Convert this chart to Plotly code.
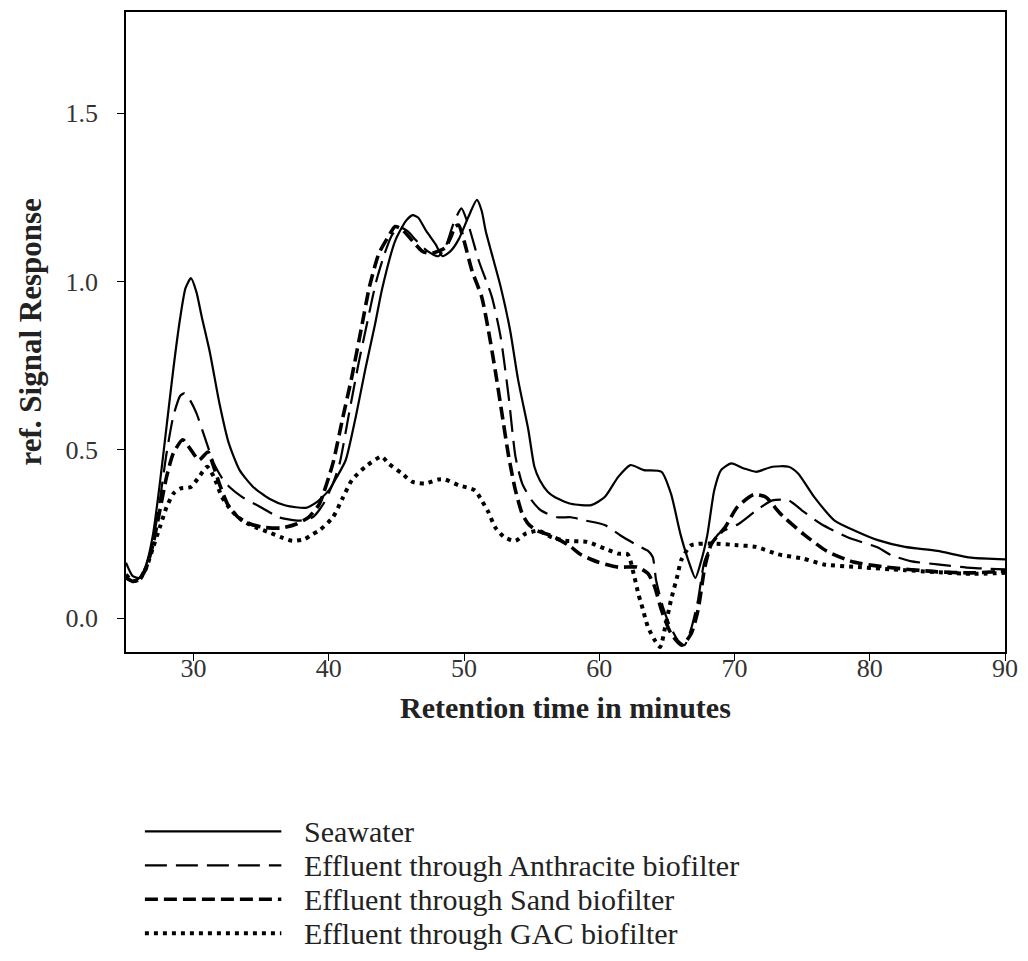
import plotly.graph_objects as go

# Retention time (min) and reference signal response for each sample
sea_t = [25.0, 25.5, 26.0, 26.5, 27.0, 27.5, 28.0, 28.5, 29.0, 29.4, 29.8, 30.2, 30.6, 31.2, 31.9,
         32.6, 33.4, 34.4, 35.6, 36.8, 38.3, 39.1, 40.0, 40.6, 41.25, 42.0, 42.7, 43.4, 43.95, 44.9,
         45.7, 46.2, 46.6, 47.2, 47.9, 48.4, 49.0, 49.6, 50.3, 50.95, 51.3, 51.6, 52.2, 52.7, 53.4,
         54.0, 54.75, 55.2, 55.6, 56.2, 56.7, 57.9, 59.4, 60.4, 61.4, 62.3, 63.3, 64.6, 65.3, 66.0,
         66.6, 67.1, 67.6, 68.0, 68.5, 69.0, 69.75, 70.7, 71.6, 72.8, 74.0, 74.7, 75.9, 77.4, 78.9,
         80.6, 82.6, 85.0, 87.5, 90.0]
sea_v = [0.165, 0.125, 0.12, 0.16, 0.25, 0.40, 0.57, 0.74, 0.89, 0.98, 1.01, 0.97, 0.895, 0.79, 0.64,
         0.52, 0.44, 0.39, 0.355, 0.335, 0.328, 0.345, 0.38, 0.42, 0.47, 0.60, 0.74, 0.87, 0.98, 1.12,
         1.18, 1.197, 1.19, 1.15, 1.11, 1.075, 1.09, 1.125, 1.19, 1.242, 1.21, 1.15, 1.06, 0.985, 0.856,
         0.707, 0.56, 0.45, 0.41, 0.375, 0.36, 0.34, 0.336, 0.36, 0.42, 0.455, 0.44, 0.435, 0.37, 0.25,
         0.17, 0.12, 0.18, 0.25, 0.38, 0.44, 0.46, 0.445, 0.435, 0.45, 0.45, 0.43, 0.36, 0.29, 0.26,
         0.232, 0.212, 0.20, 0.18, 0.175]

anth_t = [25.0, 25.5, 26.0, 26.5, 27.0, 27.5, 28.0, 28.5, 29.0, 29.3, 29.7, 30.2, 30.8, 31.5, 32.2,
          32.65, 33.6, 35.1, 36.3, 37.8, 38.8, 39.6, 40.3, 40.8, 41.5, 42.2, 42.9, 43.5, 44.1, 44.7,
          45.3, 45.8, 46.5, 47.3, 48.1, 48.6, 49.2, 49.8, 50.3, 51.1, 52.05, 52.7, 53.3, 53.8, 54.3,
          55.0, 55.7, 56.9, 57.9, 59.0, 60.4, 61.6, 62.8, 63.6, 63.95, 64.2, 64.7, 65.2, 65.8, 66.3,
          66.8, 67.3, 67.8, 68.8, 70.3, 71.6, 72.8, 74.0, 75.0, 76.4, 78.4, 80.6, 81.6, 83.0, 85.0,
          87.5, 90.0]
anth_v = [0.12, 0.11, 0.12, 0.16, 0.23, 0.35, 0.49, 0.60, 0.66, 0.668, 0.65, 0.61, 0.54, 0.46, 0.41,
          0.39, 0.36, 0.327, 0.30, 0.29, 0.30, 0.34, 0.40, 0.46, 0.61, 0.757, 0.89, 1.0, 1.08, 1.14,
          1.16, 1.15, 1.12, 1.09, 1.075, 1.10, 1.17, 1.217, 1.17, 1.06, 0.955, 0.836, 0.657, 0.48, 0.40,
          0.35, 0.32, 0.30, 0.30, 0.29, 0.277, 0.245, 0.217, 0.20, 0.182, 0.113, 0.034, -0.02, -0.065, -0.08,
          -0.03, 0.054, 0.172, 0.25, 0.28, 0.32, 0.35, 0.35, 0.32, 0.28, 0.24, 0.21, 0.187, 0.17, 0.16,
          0.15, 0.145]

sand_t = [25.0, 25.5, 26.0, 26.5, 27.0, 27.5, 28.0, 28.5, 29.2, 29.8, 30.4, 31.06, 31.4, 31.9, 32.5,
          33.3, 34.2, 35.2, 36.5, 37.6, 38.5, 39.3, 40.3, 41.0, 41.7, 42.4, 43.0, 43.7, 44.4, 44.9,
          45.4, 46.2, 46.9, 47.5, 48.1, 48.6, 49.0, 49.35, 49.6, 50.0, 50.6, 51.3, 51.8, 52.3, 52.8,
          53.3, 53.8, 54.3, 54.75, 55.4, 56.5, 57.8, 58.6, 59.9, 61.4, 62.8, 63.6, 64.1, 64.6, 65.3,
          66.1, 66.8, 67.3, 67.8, 68.3, 69.3, 70.2, 71.4, 72.3, 73.4, 75.1, 76.8, 78.8, 81.2, 85.0,
          87.5, 90.0]
sand_v = [0.12, 0.11, 0.115, 0.15, 0.22, 0.32, 0.42, 0.49, 0.53, 0.50, 0.47, 0.494, 0.46, 0.40, 0.34,
          0.30, 0.28, 0.27, 0.268, 0.28, 0.30, 0.34, 0.46, 0.59, 0.717, 0.86, 0.984, 1.083, 1.133, 1.163,
          1.155, 1.12, 1.09, 1.083, 1.09, 1.10, 1.13, 1.163, 1.167, 1.12, 1.03, 0.955, 0.855, 0.737, 0.608,
          0.48, 0.38, 0.31, 0.28, 0.26, 0.245, 0.215, 0.19, 0.167, 0.152, 0.152, 0.133, 0.093, 0.024, -0.045,
          -0.08, -0.045, 0.024, 0.152, 0.222, 0.27, 0.33, 0.367, 0.36, 0.31, 0.25, 0.20, 0.167, 0.152, 0.138,
          0.135, 0.14]

gac_t = [25.0, 25.5, 26.0, 26.5, 27.0, 27.5, 28.0, 28.5, 29.0, 29.8, 30.4, 31.0, 31.5, 32.1, 32.8,
         33.6, 34.6, 35.6, 36.5, 37.3, 38.2, 38.8, 39.3, 40.3, 41.0, 41.7, 42.7, 43.9, 44.4, 45.4,
         46.2, 47.1, 48.1, 48.6, 49.6, 50.8, 51.3, 51.8, 52.3, 53.0, 53.8, 54.5, 55.5, 56.5, 57.5,
         59.1, 60.4, 61.4, 62.1, 62.6, 62.9, 63.1, 63.6, 64.1, 64.5, 64.9, 65.3, 65.8, 66.05, 66.8,
         68.3, 70.2, 71.6, 73.2, 75.1, 76.6, 78.8, 82.6, 87.5, 90.0]
gac_v = [0.13, 0.11, 0.115, 0.15, 0.21, 0.27, 0.33, 0.37, 0.385, 0.39, 0.42, 0.45, 0.42, 0.36, 0.32,
         0.29, 0.27, 0.255, 0.24, 0.23, 0.235, 0.25, 0.261, 0.30, 0.355, 0.41, 0.45, 0.48, 0.46, 0.43,
         0.405, 0.40, 0.412, 0.412, 0.395, 0.38, 0.35, 0.315, 0.27, 0.24, 0.23, 0.25, 0.26, 0.24, 0.23,
         0.227, 0.207, 0.192, 0.19, 0.122, 0.07, 0.044, -0.026, -0.065, -0.085, -0.02, 0.054, 0.13, 0.172, 0.217,
         0.222, 0.217, 0.212, 0.19, 0.177, 0.16, 0.153, 0.143, 0.132, 0.135]

series_names = ["Seawater",
                "Effluent through Anthracite biofilter",
                "Effluent through Sand biofilter",
                "Effluent through GAC biofilter"]

x_ticks = [30, 40, 50, 60, 70, 80, 90]
y_ticks = [0.0, 0.5, 1.0, 1.5]

FONT = "Liberation Serif, Times New Roman, serif"

# line appearance per series: (width, dash)
styles = [
    (2.2, "solid"),
    (2.2, "22px,9px"),
    (3.6, "13px,6px"),
    (4.0, "4px,5px"),
]

fig = go.Figure()
for (t, v), name, (w, dash) in zip(
        [(sea_t, sea_v), (anth_t, anth_v), (sand_t, sand_v), (gac_t, gac_v)],
        series_names, styles):
    fig.add_trace(go.Scatter(
        x=t, y=v, mode="lines", name=name,
        line=dict(color="black", width=w, dash=dash, shape="spline", smoothing=0.6),
        showlegend=False,
    ))

# Legend drawn below the axes: a line sample and a label per series
row_y = [-0.2804, -0.3333, -0.3863, -0.4393]
for name, (w, dash), yy in zip(series_names, styles, row_y):
    fig.add_shape(type="line", xref="paper", yref="paper",
                  x0=0.0215, x1=0.1767, y0=yy, y1=yy,
                  line=dict(color="black", width=w, dash=dash))
    fig.add_annotation(text=name, xref="paper", yref="paper",
                       x=0.2004, y=yy, xanchor="left", yanchor="middle",
                       showarrow=False, font=dict(family=FONT, size=30, color="#222"))

# Axis titles
fig.add_annotation(text="<b>Retention time in minutes</b>", xref="paper", yref="paper",
                   x=0.5, y=-0.0872, xanchor="center", yanchor="middle", showarrow=False,
                   font=dict(family=FONT, size=30, color="#222"))
fig.add_annotation(text="<b>ref. Signal Response</b>", xref="paper", yref="paper",
                   x=-0.1087, y=0.5, xanchor="center", yanchor="middle", textangle=-90,
                   showarrow=False, font=dict(family=FONT, size=31, color="#222"))

axis_common = dict(
    showgrid=False, zeroline=False, showline=True, linecolor="black", linewidth=1.6,
    mirror=True, ticks="outside", ticklen=7, tickwidth=1.4, tickcolor="black",
    tickfont=dict(family=FONT, size=26, color="#333"),
)
fig.update_xaxes(range=[25, 90], tickvals=x_ticks, ticktext=[str(v) for v in x_ticks],
                 ticklabelstandoff=-15, **axis_common)
fig.update_yaxes(range=[-0.1, 1.8], tickvals=y_ticks, ticktext=[f"{v:.1f}" for v in y_ticks],
                 ticklabelstandoff=14, **axis_common)

fig.update_layout(
    width=1028, height=961, autosize=False,
    margin=dict(l=126, r=19, t=10, b=309),
    plot_bgcolor="white", paper_bgcolor="white",
    font=dict(family=FONT, color="#222"),
)

fig.write_html("out.html")
